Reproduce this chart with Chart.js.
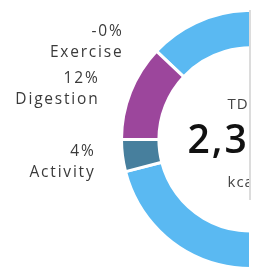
<!DOCTYPE html>
<html>
<head>
<meta charset="utf-8">
<script src="https://cdn.jsdelivr.net/npm/chart.js@4.4.1/dist/chart.umd.min.js"></script>
<style>
    html, body {margin: 0; padding: 0; background: #fff; overflow: hidden; width: 253px; height: 270px;}
    #wrap {position: absolute; left: 0; top: 0; width: 249px; height: 270px; overflow: hidden;}
    #edge {position: absolute; left: 249px; top: 10px; width: 2px; height: 190px; background: #dcdcdc;}
</style>
</head>
<body>
<div id="wrap"><canvas id="tdee-chart" width="381" height="270"></canvas></div>
<div id="edge"></div>
<script>
var categories = ['BMR', 'Activity', 'Digestion', 'Exercise'];
var shares = [84, 4, 12, 0];
var shareLabels = ['84%', '4%', '12%', '-0%'];
var segmentColors = ['#5ab9f2', '#477f9d', '#9c469c', '#9c469c'];
var centerTitle = 'TDEE';
var centerValue = '2,345';
var centerUnit = 'kcal';

// where the side labels sit, relative to the doughnut centre (BMR has none)
var labelSpots = {
    Exercise: {dx: -127, dy: -108},
    Digestion: {dx: -151, dy: -61},
    Activity: {dx: -155, dy: 12}
};

var sideLabels = {
    id: 'sideLabels',
    afterDraw: function (chart) {
        var ctx = chart.ctx;
        var arc = chart.getDatasetMeta(0).data[0];
        var cx = arc.x, cy = arc.y;
        ctx.save();
        ctx.fillStyle = '#3a3a3a';
        ctx.textAlign = 'right';
        ctx.textBaseline = 'middle';
        ctx.font = '15.5px "Open Sans"';
        ctx.letterSpacing = '1.8px';
        categories.forEach(function (name, i) {
            var spot = labelSpots[name];
            if (!spot) return;
            ctx.fillText(shareLabels[i], cx + spot.dx, cy + spot.dy);
            ctx.fillText(name, cx + spot.dx, cy + spot.dy + 21);
        });

        // centre text
        ctx.textAlign = 'left';
        ctx.fillStyle = '#444';
        ctx.font = '15px "Open Sans"';
        ctx.letterSpacing = '1px';
        ctx.fillText(centerTitle, cx - 23, cy - 35);
        ctx.fillText(centerUnit, cx - 23, cy + 43);
        ctx.fillStyle = '#111';
        ctx.letterSpacing = '2px';
        ctx.font = '600 39px "Open Sans"';
        ctx.fillText(centerValue, cx - 63, cy + 2);
        ctx.restore();
    }
};

var tdeeChart = new Chart(document.getElementById('tdee-chart').getContext('2d'), {
    type: 'doughnut',
    data: {
        labels: categories,
        datasets: [{
            data: shares,
            backgroundColor: segmentColors,
            borderColor: '#ffffff',
            borderWidth: 3
        }]
    },
    options: {
        responsive: false,
        animation: false,
        cutout: '71%',
        rotation: 270 - (shares[0] + shares[1]) * 3.6,
        layout: {padding: {left: 120, top: 9, right: 0, bottom: 0}},
        plugins: {legend: {display: false}, tooltip: {enabled: false}}
    },
    plugins: [sideLabels]
});
</script>
</body>
</html>
